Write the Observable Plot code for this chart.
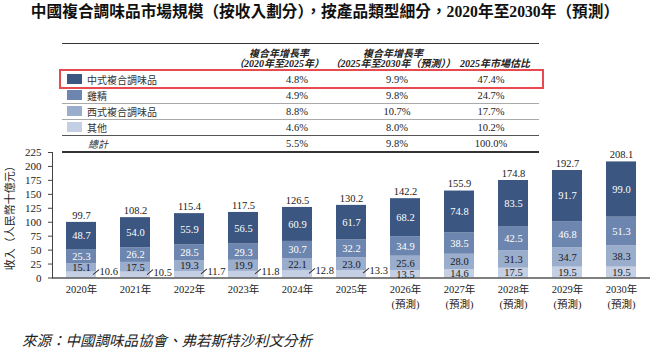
<!DOCTYPE html>
<html>
<head>
<meta charset="utf-8">
<script src="https://cdn.jsdelivr.net/npm/d3@7"></script>
<script src="https://cdn.jsdelivr.net/npm/@observablehq/plot@0.6"></script>
<style>
  body { margin: 0; width: 650px; height: 351px; position: relative; overflow: hidden; background: #fff;
         font-family: "Liberation Serif", "Noto Sans CJK TC", serif; color: #222; }
  .abs { position: absolute; }
  #title { left: 0; width: 650px; top: 3px; text-align: center; font-weight: bold; font-size: 15.7px; line-height: 18px; color: #111; }
  .hdr { font-weight: bold; font-style: italic; font-size: 10px; line-height: 10.5px; text-align: center; white-space: nowrap; transform: translateX(-50%); }
  .line { left: 62px; width: 477px; height: 0; }
  .cell { font-size: 10.5px; line-height: 16px; white-space: nowrap; }
  .num { transform: translateX(-50%); }
  .swatch { width: 15px; height: 10px; }
  #highlight { left: 59px; top: 68.7px; width: 485px; height: 20.5px; box-sizing: border-box; border: 2px solid #e84b4f; }
  #chart { left: 0; top: 140px; }
  #source { left: 22px; top: 332px; font-size: 14.5px; line-height: 18px; font-style: italic; color: #222; }
</style>
</head>
<body>
<div id="title" class="abs">中國複合調味品市場規模（按收入劃分），按產品類型細分，2020年至2030年（預測）</div>
<div id="table"></div>
<div id="chart" class="abs"></div>
<div id="source" class="abs">來源：中國調味品協會、弗若斯特沙利文分析</div>
<script>
// Product categories, listed top to bottom as in the table
const categories = ["中式複合調味品", "雞精", "西式複合調味品", "其他"];
const categoryColors = ["#3b5680", "#6c86b0", "#9badcc", "#c5cfe3"];

// Table columns
const headers = [["複合年增長率", "（2020年至2025年）"], ["複合年增長率", "（2025年至2030年（預測））"], ["2025年市場估比"]];
const cagr2020to2025 = ["4.8%", "4.9%", "8.8%", "4.6%"];
const cagr2025to2030 = ["9.9%", "9.8%", "10.7%", "8.0%"];
const share2025 = ["47.4%", "24.7%", "17.7%", "10.2%"];
const totalRow = ["總計", "5.5%", "9.8%", "100.0%"];

// Revenue, RMB billion
const years = ["2020", "2021", "2022", "2023", "2024", "2025", "2026", "2027", "2028", "2029", "2030"];
const firstForecastYear = "2026";
const chineseStyle = [48.7, 54.0, 55.9, 56.5, 60.9, 61.7, 68.2, 74.8, 83.5, 91.7, 99.0];
const chickenEssence = [25.3, 26.2, 28.5, 29.3, 30.7, 32.2, 34.9, 38.5, 42.5, 46.8, 51.3];
const westernStyle = [15.1, 17.5, 19.3, 19.9, 22.1, 23.0, 25.6, 28.0, 31.3, 34.7, 38.3];
const others = [10.6, 10.5, 11.7, 11.8, 12.8, 13.3, 13.5, 14.6, 17.5, 19.5, 19.5];
const totals = [99.7, 108.2, 115.4, 117.5, 126.5, 130.2, 142.2, 155.9, 174.8, 192.7, 208.1];
const yTicks = [0, 25, 50, 75, 100, 125, 150, 175, 200, 225];
const yLabel = "收入（人民幣十億元）";

// ---------- table ----------
const table = document.getElementById("table");
function el(cls, style, text) {
  const d = document.createElement("div");
  d.className = "abs " + cls;
  Object.assign(d.style, style);
  if (text != null) d.textContent = text;
  table.appendChild(d);
  return d;
}
el("line", {top: "42.5px", borderTop: "1.5px solid #333"});
const headerCenters = [279, 393, 495];
headers.forEach((lines, j) => {
  const top = lines.length === 2 ? 48.5 : 59;
  el("hdr", {left: headerCenters[j] + "px", top: top + "px"}).innerHTML = lines.join("<br>");
});
const valueCenters = [297, 397, 491];
const rowTop = i => 71.5 + 16 * i;
categories.forEach((c, i) => {
  el("swatch", {left: "67px", top: (rowTop(i) + 2.5) + "px", background: categoryColors[i]});
  el("cell", {left: "87px", top: rowTop(i) + "px", fontFamily: "'Noto Sans CJK TC', sans-serif", fontSize: "10px", color: "#333"}, c);
  [cagr2020to2025[i], cagr2025to2030[i], share2025[i]].forEach((v, j) =>
    el("cell num", {left: valueCenters[j] + "px", top: rowTop(i) + "px"}, v));
  el("line", {top: (rowTop(i) + 16 - 0.3) + "px", borderTop: i === 3 ? "1px solid #555" : "1px solid #aaa"});
});
el("cell", {left: "88px", top: "136px", fontFamily: "'Noto Sans CJK TC', sans-serif", fontSize: "10px", fontStyle: "italic", color: "#333"}, totalRow[0]);
totalRow.slice(1).forEach((v, j) => el("cell num", {left: valueCenters[j] + "px", top: "136px"}, v));
el("line", {top: "151px", borderTop: "2px solid #333"});
el("", {}).id = "highlight";

// ---------- stacked bars ----------
// stacking order, bottom to top
const stackSeries = [
  {cat: "其他", values: others},
  {cat: "西式複合調味品", values: westernStyle},
  {cat: "雞精", values: chickenEssence},
  {cat: "中式複合調味品", values: chineseStyle}
];
const rows = [];
years.forEach((year, i) => stackSeries.forEach(s => rows.push({year, cat: s.cat, value: s.values[i]})));
const totalRows = years.map((year, i) => ({year, total: totals[i]}));
const isForecast = y => y >= firstForecastYear;
const fmt = d3.format(".1f");
const whiteLabelCats = new Set(["中式複合調味品", "雞精"]);
const outsideRows = rows.filter(d => d.cat === "其他" && !isForecast(d.year));
const slash = {draw(context, l) { context.moveTo(0, 0); context.lineTo(0, -l); }};

const chart = Plot.plot({
  width: 650,
  height: 175,
  marginLeft: 52,
  marginRight: 0,
  marginTop: 12,
  marginBottom: 37.5,
  style: {fontFamily: "'Liberation Serif', 'Noto Sans CJK TC', serif", fontSize: "11px", color: "#222", background: "transparent"},
  x: {domain: years, paddingInner: 0.448, paddingOuter: 0.2255, align: 0.5},
  y: {domain: [0, 225]},
  color: {domain: categories, range: categoryColors},
  marks: [
    Plot.barY(rows, Plot.stackY({x: "year", y: "value", z: "cat", fill: "cat"})),
    Plot.ruleY([0], {stroke: "#555", strokeWidth: 1.5}),
    Plot.frame({anchor: "left", stroke: "#444"}),
    Plot.axisY({ticks: yTicks, tickSize: 4, tickPadding: 7, stroke: "#444", fontSize: 11,
                label: yLabel, labelAnchor: "center", labelOffset: 46, labelArrow: false}),
    Plot.axisX({tickSize: 0, tickPadding: 4, fontSize: 10.5, lineHeight: 1.43, label: null,
                tickFormat: y => isForecast(y) ? `${y}年\n(預測)` : `${y}年`}),
    // segment values on the dark segments
    Plot.text(rows, Plot.stackY({x: "year", y: "value", z: "cat",
      text: d => whiteLabelCats.has(d.cat) ? fmt(d.value) : "", fill: "white", fontSize: 10.5})),
    // segment values on the light segments
    Plot.text(rows, Plot.stackY({x: "year", y: "value", z: "cat",
      text: d => d.cat === "西式複合調味品" || (d.cat === "其他" && isForecast(d.year)) ? fmt(d.value) : "",
      fill: "#1a1a1a", fontSize: 10.5})),
    // thin segments: value beside the bar with a leader stroke
    Plot.vector(outsideRows, {x: "year", y: "value", length: 7, rotate: 50, anchor: "middle", shape: slash,
      dx: 14.5, stroke: "#333", strokeWidth: 1}),
    Plot.text(outsideRows, {x: "year", y: "value", text: d => fmt(d.value), textAnchor: "start", dx: 18, fill: "#1a1a1a", fontSize: 10.5}),
    // totals above the bars
    Plot.text(totalRows, {x: "year", y: "total", text: d => fmt(d.total), dy: -7, fill: "#1a1a1a", fontSize: 10.5})
  ]
});
document.getElementById("chart").appendChild(chart);
</script>
</body>
</html>
